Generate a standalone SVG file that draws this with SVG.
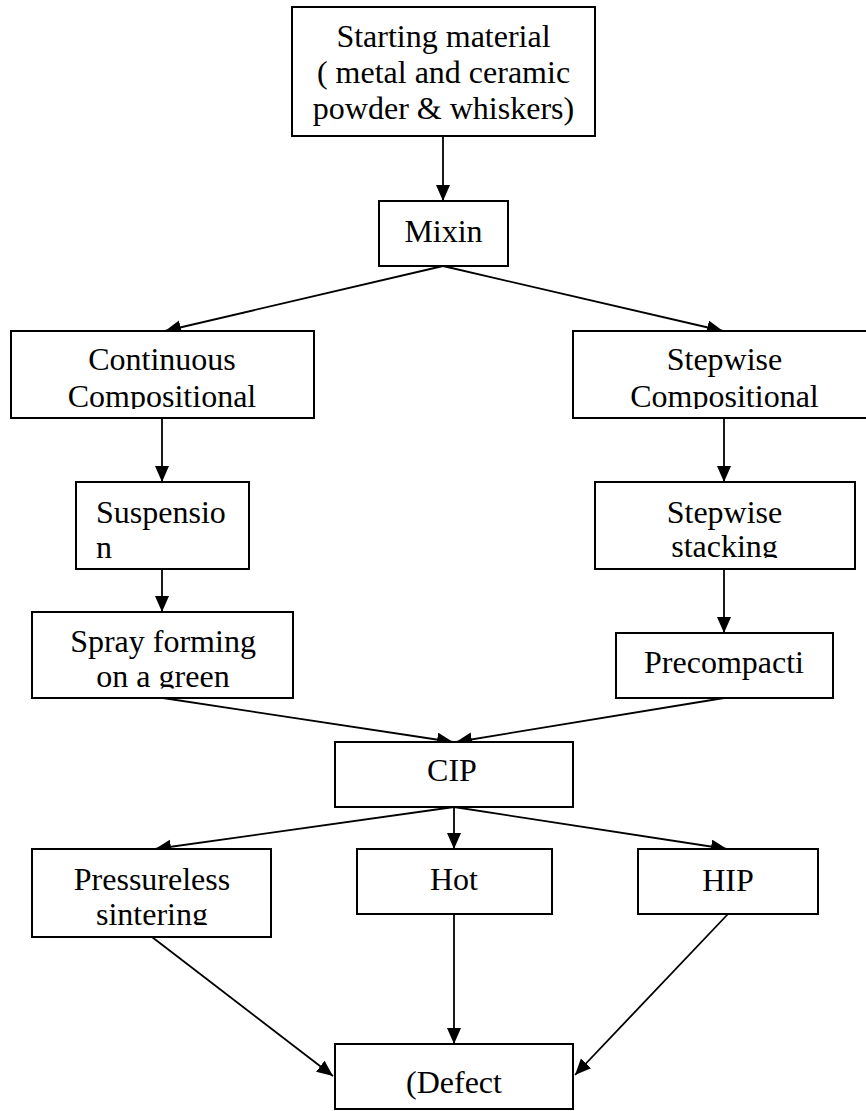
<svg xmlns="http://www.w3.org/2000/svg" width="866" height="1111" viewBox="0 0 866 1111">
<style>
.box{fill:#fff;stroke:#000;stroke-width:2}
text{font-family:'Liberation Serif',Tinos,'Times New Roman',Times,'DejaVu Serif',serif;font-size:32px;fill:#000}
.c{text-anchor:middle}
.ln{stroke:#000;stroke-width:1.8;fill:none;marker-end:url(#ah)}
</style>
<defs>
<marker id="ah" markerUnits="userSpaceOnUse" markerWidth="18" markerHeight="16" refX="16" refY="7" orient="auto">
<path d="M0,0 L16,7 L0,14 Z" fill="#000"/>
</marker>
<clipPath id="c3"><rect x="11" y="331" width="303" height="78"/></clipPath>
<clipPath id="c4"><rect x="573" y="331" width="303" height="78"/></clipPath>
<clipPath id="c6"><rect x="595" y="482" width="260" height="76"/></clipPath>
<clipPath id="c7"><rect x="32" y="612" width="261" height="76.5"/></clipPath>
<clipPath id="c10"><rect x="32" y="849" width="239" height="76"/></clipPath>
</defs>
<rect width="866" height="1111" fill="#fff"/>
<g id="connectors">
<line class="ln" x1="443" y1="136" x2="443" y2="201"/>
<line class="ln" x1="443" y1="266" x2="165" y2="331"/>
<line class="ln" x1="443" y1="266" x2="723" y2="331"/>
<line class="ln" x1="162" y1="418" x2="162" y2="482"/>
<line class="ln" x1="724" y1="418" x2="724" y2="482"/>
<line class="ln" x1="162" y1="569" x2="162" y2="612"/>
<line class="ln" x1="724" y1="569" x2="724" y2="633"/>
<line class="ln" x1="163" y1="698" x2="453" y2="742"/>
<line class="ln" x1="724" y1="698" x2="456" y2="742"/>
<line class="ln" x1="454" y1="807" x2="155" y2="849"/>
<line class="ln" x1="454" y1="807" x2="454" y2="849"/>
<line class="ln" x1="454" y1="807" x2="727" y2="849"/>
<line class="ln" x1="152" y1="937" x2="333" y2="1076"/>
<line class="ln" x1="454" y1="914" x2="454" y2="1044"/>
<line class="ln" x1="728" y1="914" x2="575" y2="1075"/>
</g>
<g id="n1"><rect class="box" x="292" y="7" width="303" height="129"/>
<text class="c" x="443.5" y="47">Starting material</text>
<text class="c" x="443.5" y="83">( metal and ceramic</text>
<text class="c" x="443.5" y="119">powder &amp; whiskers)</text></g>
<g id="n2"><rect class="box" x="379" y="201" width="129" height="65"/>
<text class="c" x="443.5" y="242">Mixin</text></g>
<g id="n3"><rect class="box" x="11" y="331" width="303" height="87"/>
<g clip-path="url(#c3)"><text class="c" x="162" y="370">Continuous</text>
<text class="c" x="162" y="407">Compositional</text></g></g>
<g id="n4"><rect class="box" x="573" y="331" width="303" height="87"/>
<g clip-path="url(#c4)"><text class="c" x="724.5" y="370">Stepwise</text>
<text class="c" x="724.5" y="407">Compositional</text></g></g>
<g id="n5"><rect class="box" x="76" y="482" width="173" height="87"/>
<text x="96" y="523">Suspensio</text>
<text x="96" y="558">n</text></g>
<g id="n6"><rect class="box" x="595" y="482" width="260" height="87"/>
<g clip-path="url(#c6)"><text class="c" x="724.5" y="523">Stepwise</text>
<text class="c" x="724.5" y="557">stacking</text></g></g>
<g id="n7"><rect class="box" x="32" y="612" width="261" height="86"/>
<g clip-path="url(#c7)"><text class="c" x="163" y="652">Spray forming</text>
<text class="c" x="163" y="687">on a green</text></g></g>
<g id="n8"><rect class="box" x="616" y="633" width="217" height="65"/>
<text class="c" x="724" y="673">Precompacti</text></g>
<g id="n9"><rect class="box" x="335" y="742" width="238" height="65"/>
<text class="c" x="452" y="781">CIP</text></g>
<g id="n10"><rect class="box" x="32" y="849" width="239" height="88"/>
<g clip-path="url(#c10)"><text class="c" x="152" y="890">Pressureless</text>
<text class="c" x="152" y="925">sintering</text></g></g>
<g id="n11"><rect class="box" x="357" y="849" width="195" height="65"/>
<text class="c" x="454" y="890">Hot</text></g>
<g id="n12"><rect class="box" x="638" y="849" width="180" height="65"/>
<text class="c" x="728" y="891">HIP</text></g>
<g id="n13"><rect class="box" x="335" y="1044" width="238" height="65"/>
<text class="c" x="454" y="1093">(Defect</text></g>
</svg>
